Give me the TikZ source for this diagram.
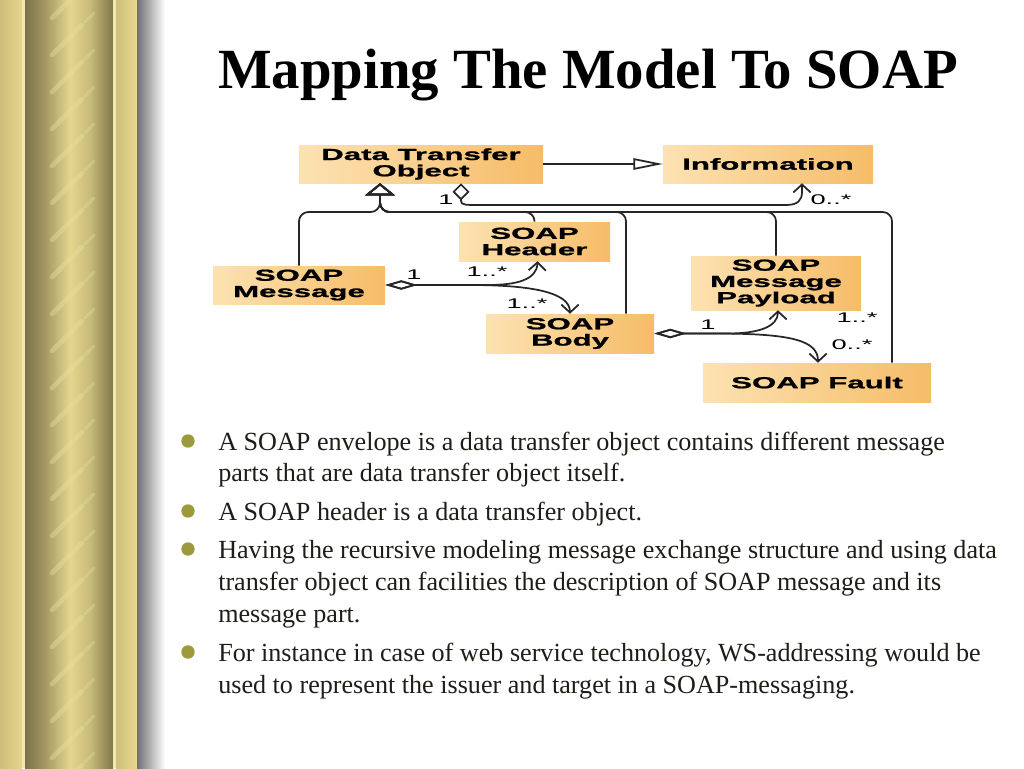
\documentclass[tikz,border=0pt]{standalone}
\usepackage{fontspec}
\setmainfont{Liberation Serif}
\newfontfamily\boxfont{Liberation Sans}[FakeStretch=1.95, BoldFeatures={FakeBold=1.2}]
\usetikzlibrary{arrows.meta,calc}
\definecolor{boxL}{RGB}{252,226,178}
\definecolor{boxR}{RGB}{246,188,104}
\definecolor{goldA}{RGB}{206,189,122}
\definecolor{goldB}{RGB}{228,212,141}
\definecolor{goldLine}{RGB}{240,230,176}
\definecolor{colDark}{RGB}{122,113,70}
\definecolor{colMid}{RGB}{160,148,96}
\definecolor{colLight}{RGB}{229,213,142}
\definecolor{colMid2}{RGB}{200,186,122}
\definecolor{colDark2}{RGB}{128,119,74}
\definecolor{goldC}{RGB}{205,190,124}
\definecolor{goldD}{RGB}{232,216,145}
\definecolor{shade}{RGB}{112,112,112}
\definecolor{streak}{RGB}{236,224,160}
\definecolor{bulletc}{RGB}{156,154,60}
\definecolor{txtc}{RGB}{30,30,25}
\tikzset{
  umlbox/.style={left color=boxL, right color=boxR, inner sep=0pt, align=center,
    font=\boxfont\bfseries\fontsize{12}{12.2}\selectfont, text=black},
  lab/.style={inner sep=0pt, font=\boxfont\fontsize{10.5}{10.5}\selectfont},
  conn/.style={line width=1.3pt, black!85},
  gen/.style={conn, rounded corners=7pt, -{Triangle[open,length=9pt,width=22pt]}},
  genh/.style={conn, -{Triangle[open,length=22pt,width=8.5pt]}},
  aggv/.style={conn, {Diamond[open,length=12.75pt,width=12.75pt]}-{Straight Barb[length=6pt,width=13pt]}},
  aggh/.style={conn, {Diamond[open,length=24pt,width=7pt]}-{Straight Barb[length=6pt,width=13pt]}},
  bul/.style={circle, fill=bulletc, minimum size=10pt, inner sep=0pt},
  txt/.style={anchor=base west, inner sep=0pt, text=txtc, font=\fontsize{19.6}{23}\selectfont},
}
\begin{document}
\begin{tikzpicture}[x=0.75pt,y=-0.75pt]
\useasboundingbox (0,0) rectangle (1024,768);
\fill[white] (0,0) rectangle (1024,768);
% left column decoration
\fill[left color=goldA, right color=goldB] (0,0) rectangle (22,768);
\fill[goldLine] (22,0) rectangle (25,768);
\fill[left color=colDark, right color=colMid] (25,0) rectangle (43,768);
\fill[left color=colMid, right color=colLight] (43,0) rectangle (70,768);
\fill[left color=colLight, right color=colMid2] (70,0) rectangle (90,768);
\fill[left color=colMid2, right color=colDark2] (90,0) rectangle (113,768);
\fill[goldLine] (113,0) rectangle (116,768);
\fill[left color=goldC, right color=goldD] (116,0) rectangle (137,768);
\fill[left color=shade, right color=white] (137,0) rectangle (165,768);
\begin{scope}
\clip (40,0) rectangle (100,768);
\foreach \k in {0,...,21} {
  \draw[streak, opacity=0.4, line width=3.5pt, line cap=round]
    (52,{\k*37+18}) -- (82,{\k*37-12});
  \draw[streak, opacity=0.3, line width=2.5pt, line cap=round]
    (85,{\k*37-15}) -- (94,{\k*37-24});
}
\end{scope}
% title
\node[anchor=base west, inner sep=0pt, text=black, font=\bfseries\fontsize{42.6}{50}\selectfont] (title) at (218,88) {Mapping The Model To SOAP};
% boxes
\node[umlbox, minimum width=183pt, minimum height=28.5pt] (dto) at (421,164) {Data Transfer\\Object};
\node[umlbox, minimum width=157.5pt, minimum height=28.5pt] (info) at (768,164) {Information};
\node[umlbox, minimum width=113.25pt, minimum height=29.25pt] (hdr) at (534.5,241.5) {SOAP\\Header};
\node[umlbox, minimum width=129pt, minimum height=28.5pt] (msg) at (299,285) {SOAP\\Message};
\node[umlbox, minimum width=127.5pt, minimum height=40.5pt] (pay) at (776,283) {SOAP\\Message\\Payload};
\node[umlbox, minimum width=126pt, minimum height=29.25pt] (body) at (570,333.5) {SOAP\\Body};
\node[umlbox, minimum width=171pt, minimum height=29.25pt] (fault) at (817,382.5) {SOAP Fault};
% generalization
\coordinate (jn) at (380,212);
\coordinate (tip) at ($(dto.south)+(-41,0)$);
\draw[genh] (dto.east) -- (info.west);
\draw[gen] (msg.north) |- (jn) -- (tip);
\draw[gen] (hdr.north) |- (jn) -- (tip);
\draw[gen] ($(body.north)+(56,0)$) |- (jn) -- (tip);
\draw[gen] (pay.north) |- (jn) -- (tip);
\draw[gen] ($(fault.north)+(75,0)$) |- (jn) -- (tip);
% aggregations
\draw[aggv] ($(dto.south)+(40,0)$) -- (461,201) .. controls (461,205) and (466,205) .. (478,205) -- (786,205) .. controls (798,205) and (802,200) .. (802,192) -- ($(info.south)+(34,0)$);
\draw[aggh] (msg.east) -- (488,285) .. controls (516,285) and (537,280) .. ($(hdr.south)+(3,0)$);
\draw[aggh] (msg.east) -- (470,285) .. controls (530,285) and (570,292) .. (body.north);
\draw[aggh] (body.east) -- (728,333.5) .. controls (758,333.5) and (778,327) .. ($(pay.south)+(2,0)$);
\draw[aggh] (body.east) -- (715,333.5) .. controls (790,333.5) and (818,340) .. ($(fault.north)+(1,0)$);
% multiplicities
\node[lab] (l1) at (446,200) {1};
\node[lab] (l2) at (831,200) {0..*};
\node[lab] (l3) at (414,275) {1};
\node[lab] (l4) at (487,272) {1..*};
\node[lab] (l5) at (527,304) {1..*};
\node[lab] (l6) at (708,325) {1};
\node[lab] (l7) at (857,318) {1..*};
\node[lab] (l8) at (852,345) {0..*};
% bullets
\node[bul] (b1) at (188,441) {};
\node[bul] (b2) at (188,511) {};
\node[bul] (b3) at (188,549) {};
\node[bul] (b4) at (188,652) {};
\node[txt] (t1) at (218,450) {A SOAP envelope is a data transfer object contains different message};
\node[txt] (t2) at (218,481) {parts that are data transfer object itself.};
\node[txt] (t3) at (218,520) {A SOAP header is a data transfer object.};
\node[txt] (t4) at (218,558) {Having the recursive modeling message exchange structure and using data};
\node[txt] (t5) at (218,590) {transfer object can facilities the description of SOAP message and its};
\node[txt] (t6) at (218,622) {message part.};
\node[txt] (t7) at (218,661) {For instance in case of web service technology, WS-addressing would be};
\node[txt] (t8) at (218,693) {used to represent the issuer and target in a SOAP-messaging.};
\end{tikzpicture}
\end{document}
